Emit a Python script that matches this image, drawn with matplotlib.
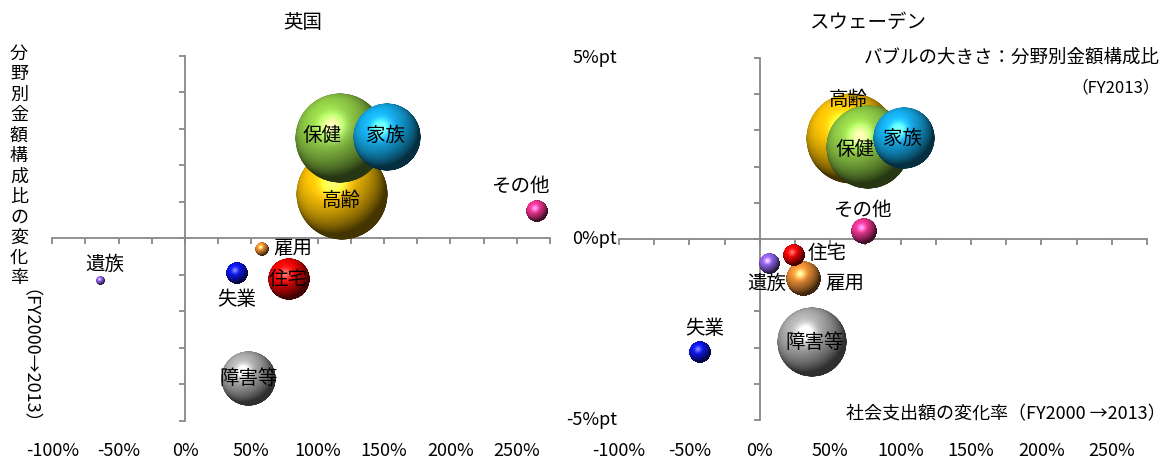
import numpy as np
import matplotlib
matplotlib.use("Agg")
import matplotlib.pyplot as plt
import matplotlib.transforms as mtransforms
from matplotlib.offsetbox import OffsetImage, AnnotationBbox

plt.rcParams['font.family'] = ['Noto Sans CJK JP', 'DejaVu Sans']

# ---- data -----------------------------------------------------------------
categories = ["高齢", "遺族", "障害等", "保健", "家族", "雇用", "失業", "住宅", "その他"]

# United Kingdom
uk_growth = [118, -64, 48, 117, 152, 58, 39, 78, 265]            # % change of expenditure FY2000->2013
uk_share_change = [1.2, -1.18, -3.85, 2.75, 2.78, -0.3, -0.95, -1.12, 0.74]  # %pt
uk_share = [32.0, 0.25, 11.5, 31.0, 17.5, 0.7, 1.8, 6.5, 1.8]   # composition FY2013 (%)

# Sweden
se_growth = [65, 7, 37, 77, 102, 31, -43, 24, 74]
se_share_change = [2.78, -0.69, -2.87, 2.53, 2.78, -1.09, -3.13, -0.46, 0.22]
se_share = [36.0, 1.9, 21.0, 31.0, 16.5, 5.3, 2.0, 2.0, 2.9]

x_tick_labels = ["-100%", "-50%", "0%", "50%", "100%", "150%", "200%", "250%"]
x_tick_values = [-100, -50, 0, 50, 100, 150, 200, 250]
y_tick_labels = ["5%pt", "0%pt", "-5%pt"]
y_tick_values = [5, 0, -5]

colors = {
    "高齢": (0.96, 0.74, 0.02),
    "遺族": (0.55, 0.38, 0.90),
    "障害等": (0.66, 0.66, 0.66),
    "保健": (0.55, 0.78, 0.27),
    "家族": (0.08, 0.66, 0.90),
    "雇用": (0.90, 0.55, 0.20),
    "失業": (0.05, 0.08, 0.88),
    "住宅": (0.92, 0.02, 0.02),
    "その他": (0.90, 0.20, 0.56),
}

# label offsets from bubble centre (pixels, +x right, +y down)
uk_label_offset = {
    "高齢": (0, 6), "遺族": (5, -17), "障害等": (0, 0), "保健": (-18, -2),
    "家族": (-1, -1), "雇用": (31, -1), "失業": (0, 26), "住宅": (0, 0),
    "その他": (-16, -25),
}
se_label_offset = {
    "高齢": (-3, -39), "遺族": (-3, 20), "障害等": (3, 0), "保健": (-13, 2),
    "家族": (-1, 0), "雇用": (41, 5), "失業": (5, -24), "住宅": (34, -2),
    "その他": (-2, -21),
}

W, H, DPI = 1171, 458, 100
fig = plt.figure(figsize=(W / DPI, H / DPI), dpi=DPI)
fig.patch.set_facecolor("white")


def fx(px):
    return px / W


def fy(py):
    return 1 - py / H


AXIS_GRAY = "#888888"
LABEL_SIZE = 14
TICK_SIZE = 13
X_MIN, X_MAX = -100, 275
Y_MIN, Y_MAX = -5, 5


def sphere_image(rgb, n=240):
    """RGBA image of a lit glossy sphere."""
    yy, xx = np.mgrid[-1:1:n * 1j, -1:1:n * 1j]
    yy = -yy
    r2 = xx ** 2 + yy ** 2
    zz = np.sqrt(np.clip(1 - r2, 0, 1))
    light = np.array([-0.35, 0.5, 0.8])
    light /= np.linalg.norm(light)
    diff = np.clip(xx * light[0] + yy * light[1] + zz * light[2], 0, 1)
    half = light + np.array([0, 0, 1.0])
    half /= np.linalg.norm(half)
    spec = np.clip(xx * half[0] + yy * half[1] + zz * half[2], 0, 1) ** 25
    base = np.array(rgb)
    col = base[None, None, :] * (0.28 + 0.85 * diff[..., None]) + 0.45 * spec[..., None]
    col = np.clip(col, 0, 1)
    alpha = np.clip((1 - np.sqrt(r2)) * n / 2.0, 0, 1)
    return np.dstack([col, alpha])


def draw_panel(rect_px, title, title_px, growth, share_change, share, offsets,
               label_y_px):
    left, top, right, bottom = rect_px
    ax = fig.add_axes([fx(left), fy(bottom), fx(right) - fx(left), fy(top) - fy(bottom)])
    ax.set_xlim(X_MIN, X_MAX)
    ax.set_ylim(Y_MIN, Y_MAX)
    ax.patch.set_alpha(0)
    for side in ("top", "right"):
        ax.spines[side].set_visible(False)
    ax.spines["left"].set_position(("data", 0))
    ax.spines["bottom"].set_position(("data", 0))
    for side in ("left", "bottom"):
        ax.spines[side].set_color(AXIS_GRAY)
        ax.spines[side].set_linewidth(1.3)
        ax.spines[side].set_zorder(1)
    ax.set_xticks(np.arange(X_MIN, X_MAX + 1, 25))
    ax.set_yticks(np.arange(Y_MIN, Y_MAX + 1, 1))
    ax.tick_params(direction="out", length=4, width=1.3, color=AXIS_GRAY,
                   labelbottom=False, labelleft=False)

    # bubble radius in pixels, area proportional to share
    rmax = 0.125 * min(right - left, bottom - top)
    smax = max(share)
    for i, cat in enumerate(categories):
        r = rmax * np.sqrt(share[i] / smax)
        img = sphere_image(colors[cat])
        n = img.shape[0]
        oi = OffsetImage(img, zoom=(2 * r / n) * 72 / DPI)
        ab = AnnotationBbox(oi, (growth[i], share_change[i]), frameon=False,
                            pad=0, annotation_clip=False, zorder=3 + i)
        ax.add_artist(ab)
        dx, dy = offsets[cat]
        ax.annotate(cat, (growth[i], share_change[i]),
                    xytext=(dx * 72 / DPI, -dy * 72 / DPI), textcoords="offset points",
                    ha="center", va="center", fontsize=LABEL_SIZE, color="black",
                    zorder=30, annotation_clip=False)

    # panel title
    fig.text(fx(title_px[0]), fy(title_px[1]), title, ha="center", va="center",
             fontsize=14)

    # x tick labels, placed along the bottom edge of the plot area
    xtrans = mtransforms.blended_transform_factory(ax.transData, fig.transFigure)
    for v, lab in zip(x_tick_values, x_tick_labels):
        ax.text(v, fy(label_y_px), lab, transform=xtrans, ha="center", va="center",
                fontsize=TICK_SIZE, clip_on=False)
    return ax


ax_uk = draw_panel((52.3, 55.7, 550, 421), "英国", (303, 22),
                   uk_growth, uk_share_change, uk_share, uk_label_offset, 451)
ax_se = draw_panel((619, 58, 1147, 420), "スウェーデン", (868, 22),
                   se_growth, se_share_change, se_share, se_label_offset, 451)

# y tick labels of the Sweden panel, at the left edge of its plot area
trans = mtransforms.blended_transform_factory(ax_se.transAxes, ax_se.transData)
for v, lab in zip(y_tick_values, y_tick_labels):
    ax_se.text(-0.004, v, lab, transform=trans, ha="right", va="center",
               fontsize=TICK_SIZE)

# vertical y-axis title: upright characters, then the rotated period note
title_chars = "分野別金額構成比の変化率"
for i, ch in enumerate(title_chars):
    fig.text(fx(19), fy(54 + i * 20.4), ch, ha="center", va="center", fontsize=13)
fig.text(fx(19), fy(289), "（FY2000→2013）", ha="center", va="top", rotation=-90,
         fontsize=13)

# bubble-size note and x-axis title
fig.text(fx(1160), fy(58), "バブルの大きさ：分野別金額構成比", ha="right", va="center",
         fontsize=13.3)
fig.text(fx(1160), fy(88), "（FY2013）", ha="right", va="center", fontsize=12)
fig.text(fx(1166), fy(414), "社会支出額の変化率（FY2000 →2013）", ha="right",
         va="center", fontsize=13)

fig.savefig("out.png", dpi=DPI, facecolor="white")
